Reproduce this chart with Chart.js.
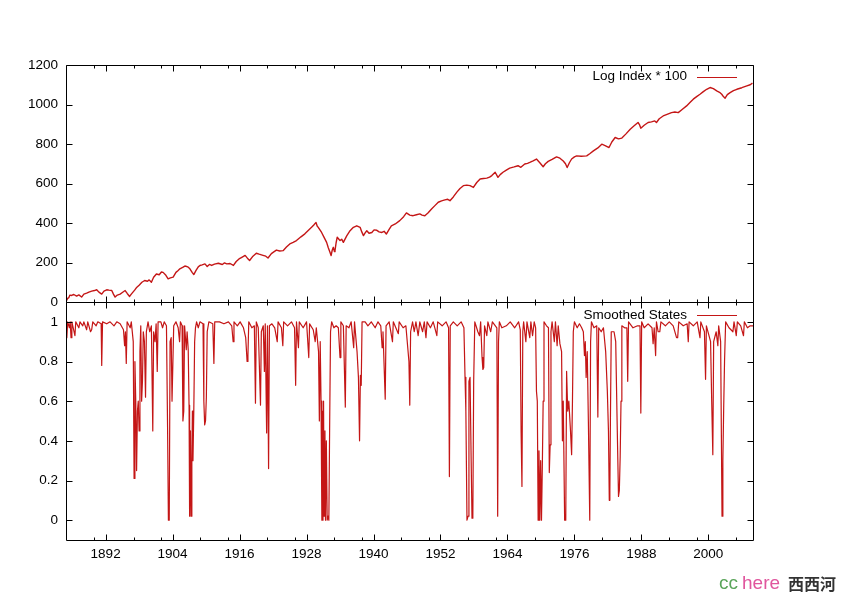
<!DOCTYPE html>
<html><head><meta charset="utf-8">
<script src="https://cdn.jsdelivr.net/npm/chart.js@4.4.1/dist/chart.umd.min.js"></script>
<style>
html,body{margin:0;padding:0;background:#fff;}
#wrap{position:relative;width:842px;height:595px;background:#fff;}
canvas{position:absolute;left:0;top:0;}
</style></head><body>
<div id="wrap"><canvas id="c1" width="842" height="595"></canvas><canvas id="c2" width="842" height="595"></canvas></div>
<script>
// ---------- data ----------
const xTickLabels = [1892,1904,1916,1928,1940,1952,1964,1976,1988,2000];
const xMinorTicks = [1890,1897,1902,1909,1914,1921,1926,1933,1938,1945,1950,1957,1962,1969,1974,1981,1986,1993,1998,2005];
const indexTicks = [0,200,400,600,800,1000,1200];
const stateTicks = [0,0.2,0.4,0.6,0.8,1];

const indexYears = [1884.9,1885.2,1885.4,1885.6,1885.9,1886.3,1886.8,1887.2,1887.7,1888.1,1888.6,1889.0,1889.5,1890.0,1890.4,1890.8,1891.3,1891.7,1892.2,1892.6,1893.1,1893.4,1893.7,1894.1,1894.6,1895.0,1895.5,1895.9,1896.3,1896.6,1896.9,1897.2,1897.5,1898.0,1898.5,1899.0,1899.5,1899.8,1900.2,1900.6,1901.1,1901.6,1902.0,1902.3,1902.8,1903.2,1903.6,1904.1,1904.6,1905.0,1905.3,1905.8,1906.2,1906.5,1906.8,1907.1,1907.5,1907.8,1908.2,1908.6,1908.9,1909.3,1909.8,1910.2,1910.6,1911.0,1911.5,1912.2,1912.9,1913.3,1913.7,1914.3,1914.9,1915.4,1915.9,1916.4,1917.0,1917.4,1917.8,1918.4,1919.0,1919.5,1920.2,1920.7,1921.1,1921.7,1922.2,1922.6,1923.2,1923.8,1924.4,1925.0,1925.6,1926.2,1927.0,1927.7,1928.3,1928.9,1929.3,1929.7,1929.9,1930.1,1930.4,1930.7,1931.1,1931.6,1931.9,1932.2,1932.4,1932.6,1932.8,1933.0,1933.1,1933.3,1933.5,1933.8,1934.0,1934.3,1934.6,1935.2,1935.8,1936.4,1937.0,1937.3,1937.6,1937.9,1938.2,1938.5,1938.8,1939.2,1939.7,1940.1,1940.6,1941.0,1941.5,1941.9,1942.3,1942.8,1943.2,1943.9,1944.7,1945.4,1945.9,1946.5,1947.1,1947.7,1948.3,1948.7,1949.2,1949.8,1950.4,1951.0,1951.6,1952.2,1952.8,1953.3,1953.7,1954.3,1954.9,1955.5,1956.1,1956.7,1957.3,1957.9,1958.5,1959.1,1959.7,1960.3,1960.8,1961.2,1961.8,1962.3,1962.7,1963.2,1963.8,1964.4,1965.2,1965.9,1966.4,1967.1,1967.6,1968.0,1968.6,1969.2,1969.8,1970.4,1970.8,1971.3,1972.0,1972.8,1973.4,1974.0,1974.4,1974.7,1975.1,1975.5,1976.0,1976.4,1977.2,1978.2,1978.8,1979.4,1980.2,1980.9,1981.5,1982.2,1982.7,1983.3,1983.9,1984.5,1985.2,1986.0,1986.7,1987.4,1987.7,1987.9,1988.5,1989.2,1989.8,1990.4,1990.7,1991.2,1991.9,1992.6,1993.4,1994.0,1994.6,1995.3,1996.1,1996.7,1997.3,1997.9,1998.5,1999.1,1999.7,2000.3,2000.9,2001.5,2002.0,2002.4,2002.7,2003.0,2003.4,2003.9,2004.5,2005.1,2006.0,2006.9,2007.5,2007.9];
const indexValues = [3,18,22,35,33,38,30,36,25,40,45,50,55,58,62,50,40,55,62,60,58,40,25,35,40,48,58,42,28,40,50,60,72,85,100,109,105,112,100,125,142,138,152,150,135,117,122,126,150,160,168,175,182,180,176,168,150,139,160,178,185,188,193,180,190,185,192,196,190,198,193,195,185,205,218,226,236,222,210,232,247,242,236,232,223,245,255,263,258,260,278,294,302,311,330,345,362,378,390,403,385,378,365,352,330,302,275,252,235,262,277,255,260,300,328,318,311,318,302,335,361,378,386,382,378,355,336,350,361,348,352,365,363,355,352,358,344,368,386,395,412,432,451,440,437,442,446,440,437,452,471,488,505,512,517,520,513,532,555,575,589,592,589,580,605,623,625,627,632,640,657,631,645,657,668,678,684,690,682,699,702,707,715,724,705,685,700,712,722,735,728,714,700,681,705,724,735,740,738,740,752,765,780,799,792,782,810,833,826,830,850,875,892,909,895,880,895,909,912,917,909,928,942,950,959,962,959,975,993,1010,1027,1040,1052,1065,1077,1086,1080,1069,1062,1052,1040,1032,1050,1060,1070,1077,1085,1094,1100,1108];

const smoothedStates = [[1884.9,0.97],[1885.05,0.92],[1885.2,1],[1885.5,0.97],[1885.65,1],[1885.8,0.92],[1885.95,1],[1886.5,0.93],[1886.65,1],[1887.2,0.97],[1887.4,1],[1887.9,0.98],[1888.1,1],[1888.6,0.96],[1888.8,1],[1889.3,0.95],[1889.5,0.96],[1889.7,1],[1890.3,0.98],[1890.6,1],[1891.2,0.99],[1891.3,0.78],[1891.45,1],[1892.2,0.99],[1892.8,1],[1893.5,0.98],[1894.0,1],[1894.6,0.99],[1895.2,0.96],[1895.4,0.88],[1895.55,0.95],[1895.7,0.79],[1895.85,1],[1896.4,0.97],[1896.6,1],[1896.95,0.9],[1897.1,0.21],[1897.25,0.8],[1897.4,0.6],[1897.55,0.25],[1897.7,0.55],[1897.85,0.6],[1898.0,0.45],[1898.15,0.85],[1898.3,0.98],[1898.45,0.6],[1898.6,0.7],[1898.75,0.95],[1898.95,0.9],[1899.15,0.62],[1899.3,0.95],[1899.6,1],[1899.9,0.95],[1900.2,0.98],[1900.45,0.45],[1900.6,0.95],[1900.85,0.9],[1901.05,0.99],[1901.25,0.75],[1901.4,1],[1901.9,1],[1902.2,0.97],[1902.5,1],[1902.9,0.98],[1903.1,0.47],[1903.25,0.0],[1903.4,0.0],[1903.55,0.9],[1903.75,0.92],[1903.9,0.6],[1904.05,0.6],[1904.2,0.98],[1904.6,1],[1905.0,0.97],[1905.25,0.9],[1905.4,1],[1905.7,0.98],[1905.85,0.5],[1906.0,0.55],[1906.15,0.98],[1906.45,0.86],[1906.6,0.95],[1906.8,0.86],[1906.95,0.58],[1907.05,0.02],[1907.2,0.45],[1907.3,0.02],[1907.45,0.3],[1907.55,0.55],[1907.65,0.3],[1907.8,0.55],[1907.95,0.9],[1908.1,0.97],[1908.3,1],[1908.6,0.97],[1908.9,1],[1909.45,0.99],[1909.6,0.6],[1909.75,0.48],[1909.9,0.5],[1910.05,0.62],[1910.2,0.95],[1910.5,1],[1911.2,0.99],[1911.4,0.79],[1911.55,1],[1912.4,1],[1913.2,0.99],[1914.0,1],[1914.6,0.98],[1914.85,0.9],[1915.0,1],[1915.6,0.98],[1916.1,1],[1916.7,0.97],[1917.1,0.92],[1917.35,0.8],[1917.5,0.83],[1917.65,1],[1918.2,0.97],[1918.65,0.98],[1918.85,0.59],[1919.0,1],[1919.35,0.97],[1919.75,0.58],[1919.9,0.95],[1920.25,0.98],[1920.45,0.75],[1920.6,0.99],[1920.85,0.44],[1921.0,0.98],[1921.2,0.26],[1921.35,0.98],[1921.8,0.99],[1922.3,0.97],[1922.75,0.9],[1922.9,1],[1923.5,0.97],[1923.75,0.88],[1923.9,1],[1924.6,0.98],[1925.3,1],[1925.85,0.97],[1926.05,0.68],[1926.2,1],[1926.55,0.87],[1926.7,1],[1927.4,0.97],[1928.0,1],[1928.4,0.82],[1928.55,0.99],[1929.2,0.96],[1929.55,0.9],[1929.75,0.97],[1930.15,0.85],[1930.3,0.5],[1930.45,0.9],[1930.6,0.6],[1930.75,0.0],[1930.85,0.55],[1930.95,0.0],[1931.05,0.6],[1931.15,0.02],[1931.3,0.45],[1931.4,0.0],[1931.55,0.4],[1931.7,0.0],[1931.85,0.02],[1932.0,0.0],[1932.15,0.5],[1932.3,0.95],[1932.5,1],[1932.9,0.97],[1933.3,0.98],[1933.7,0.97],[1934.0,0.82],[1934.15,1],[1934.6,0.98],[1934.95,0.57],[1935.1,0.98],[1935.6,0.97],[1936.0,1],[1936.45,0.87],[1936.6,1],[1937.05,0.85],[1937.3,0.72],[1937.5,0.4],[1937.65,0.73],[1937.8,0.68],[1937.95,1],[1938.5,1],[1939.0,0.98],[1939.6,1],[1940.3,0.97],[1940.8,1],[1941.3,0.98],[1941.55,0.87],[1941.7,0.95],[1942.1,0.61],[1942.25,0.98],[1942.8,1],[1943.4,0.9],[1943.55,1],[1944.45,0.94],[1944.6,1],[1945.3,0.97],[1945.8,0.98],[1946.35,0.8],[1946.5,0.58],[1946.65,0.95],[1947.0,1],[1947.3,0.95],[1947.6,1],[1948.0,0.93],[1948.3,1],[1948.8,0.95],[1949.1,1],[1949.4,0.92],[1949.6,1],[1950.2,0.97],[1950.7,1],[1951.35,0.93],[1951.5,1],[1952.3,0.98],[1953.0,1],[1953.45,0.97],[1953.6,0.22],[1953.75,0.98],[1954.3,1],[1955.0,0.98],[1955.7,1],[1956.2,0.97],[1956.4,0.72],[1956.55,0.55],[1956.75,0.0],[1956.95,0.02],[1957.1,0.7],[1957.3,0.72],[1957.5,0.3],[1957.65,0.01],[1957.8,0.02],[1957.95,0.7],[1958.15,1],[1958.7,0.95],[1959.0,0.93],[1959.2,1],[1959.45,0.82],[1959.6,0.76],[1959.75,0.77],[1959.9,0.98],[1960.3,0.93],[1960.5,1],[1961.0,0.95],[1961.3,1],[1962.1,0.97],[1962.25,0.02],[1962.4,0.9],[1962.55,1],[1963.0,0.97],[1963.8,0.98],[1964.5,1],[1965.3,0.97],[1966.0,1],[1966.3,0.96],[1966.45,0.44],[1966.6,0.17],[1966.75,0.95],[1966.9,1],[1967.3,0.9],[1967.5,1],[1968.0,0.92],[1968.2,1],[1968.5,0.93],[1968.8,1],[1969.05,0.97],[1969.2,0.65],[1969.35,0.6],[1969.5,0.0],[1969.65,0.35],[1969.8,0.0],[1969.95,0.3],[1970.1,0.0],[1970.25,0.27],[1970.4,0.6],[1970.55,1],[1971.0,0.98],[1971.35,0.97],[1971.5,0.24],[1971.65,0.38],[1971.8,0.95],[1972.0,1],[1972.4,0.9],[1972.6,1],[1972.9,0.88],[1973.1,0.98],[1973.4,0.89],[1973.7,0.85],[1973.85,0.4],[1974.0,0.6],[1974.25,0.0],[1974.45,0.0],[1974.6,0.75],[1974.8,0.55],[1975.0,0.6],[1975.3,0.45],[1975.5,0.33],[1975.65,0.6],[1975.8,0.95],[1976.0,1],[1976.5,0.97],[1976.9,0.99],[1977.3,0.97],[1977.6,0.95],[1977.8,0.83],[1977.95,0.9],[1978.1,0.72],[1978.3,0.85],[1978.5,0.5],[1978.75,0.0],[1978.9,0.9],[1979.05,1],[1979.5,0.97],[1980.0,0.98],[1980.2,0.52],[1980.35,0.97],[1980.8,0.95],[1981.2,0.97],[1981.6,0.85],[1981.9,0.65],[1982.1,0.45],[1982.25,0.1],[1982.35,0.15],[1982.45,0.5],[1982.6,0.95],[1983.1,0.95],[1983.4,0.9],[1983.65,0.5],[1983.9,0.12],[1984.05,0.15],[1984.2,0.32],[1984.35,0.6],[1984.5,0.98],[1985.0,0.97],[1985.4,0.97],[1985.55,0.7],[1985.7,1],[1986.5,0.97],[1987.3,0.98],[1987.75,0.98],[1987.9,0.54],[1988.05,1],[1988.5,0.97],[1989.2,0.99],[1989.9,0.97],[1990.1,0.89],[1990.3,0.97],[1990.55,0.83],[1990.7,1],[1991.0,0.95],[1991.3,0.95],[1991.5,1],[1992.3,0.98],[1993.0,1],[1993.7,0.98],[1994.3,0.92],[1994.5,0.92],[1994.7,1],[1995.5,0.98],[1996.2,0.99],[1996.4,0.9],[1996.55,1],[1997.3,0.98],[1998.0,1],[1998.5,0.92],[1998.65,1],[1999.3,0.95],[1999.5,0.71],[1999.65,0.98],[2000.4,0.9],[2000.6,0.6],[2000.8,0.33],[2000.95,0.9],[2001.4,0.95],[2001.7,0.88],[2001.85,0.98],[2002.2,0.9],[2002.45,0.02],[2002.6,0.3],[2002.75,0.57],[2002.9,0.8],[2003.1,1],[2003.7,0.97],[2004.4,0.95],[2004.6,1],[2005.0,0.93],[2005.2,1],[2005.8,0.98],[2006.3,0.93],[2006.45,1],[2007.0,0.97],[2007.5,0.98],[2008.0,0.98]];

// ---------- styling ----------
const RED = '#c41616';
const FONT = '"Liberation Sans", Arial, Helvetica, sans-serif';
const FSIZE = 13.5;

const framePlugin = {
  id: 'frame',
  afterDatasetsDraw(chart, args, o) {
    const {ctx, chartArea: a} = chart;
    const xs = chart.scales.x, ys = chart.scales.y;
    const L = Math.round(a.left) + 0.5, R = Math.round(a.right) + 0.5;
    const T = Math.round(a.top) + 0.5, B = Math.round(a.bottom) + 0.5;
    ctx.save();
    ctx.strokeStyle = '#000';
    ctx.lineWidth = 1;
    ctx.beginPath();
    ctx.rect(L, T, R - L, B - T);
    xTickLabels.forEach(v => {
      const p = Math.round(xs.getPixelForValue(v)) + 0.5;
      ctx.moveTo(p, B); ctx.lineTo(p, B - 6);
      ctx.moveTo(p, T); ctx.lineTo(p, T + 6);
    });
    xMinorTicks.forEach(v => {
      const p = Math.round(xs.getPixelForValue(v)) + 0.5;
      ctx.moveTo(p, B); ctx.lineTo(p, B - 3);
      ctx.moveTo(p, T); ctx.lineTo(p, T + 3);
    });
    o.yTicks.forEach(v => {
      const p = Math.round(ys.getPixelForValue(v)) + 0.5;
      ctx.moveTo(L, p); ctx.lineTo(L + 6, p);
      ctx.moveTo(R, p); ctx.lineTo(R - 6, p);
    });
    ctx.stroke();
    // key (gnuplot style: text then line sample)
    const ky = a.top + o.keyDy;
    ctx.font = FSIZE + 'px ' + FONT;
    ctx.fillStyle = '#000';
    ctx.textAlign = 'right';
    ctx.textBaseline = 'middle';
    ctx.fillText(chart.data.datasets[0].label, a.right - 66, ky);
    ctx.strokeStyle = RED;
    ctx.beginPath();
    ctx.moveTo(a.right - 56, Math.round(ky) + 0.5);
    ctx.lineTo(a.right - 16, Math.round(ky) + 0.5);
    ctx.stroke();
    ctx.restore();
  },
  afterDraw(chart, args, o) {
    if (!o.watermark) return;
    const ctx = chart.ctx;
    ctx.save();
    ctx.textAlign = 'left';
    ctx.textBaseline = 'alphabetic';
    ctx.font = '19px ' + FONT;
    ctx.fillStyle = '#5aa55a';
    ctx.fillText('cc', 719, 589);
    ctx.fillStyle = '#e0559d';
    ctx.fillText('here', 742, 589);
    ctx.font = 'bold 16px "Noto Sans CJK SC", sans-serif';
    ctx.fillStyle = '#333';
    ctx.fillText('西西河', 788, 590);
    ctx.restore();
  }
};

function yAxis(min, max, ticks, fmt) {
  return {
    min: min, max: max,
    afterFit(s) { s.width = 58; },
    afterBuildTicks(s) { s.ticks = ticks.map(v => ({value: v})); },
    grid: {display: false, drawTicks: false},
    border: {display: false},
    ticks: {color: '#000', font: {family: FONT, size: FSIZE}, padding: 8, autoSkip: false, callback: fmt}
  };
}

Chart.defaults.font.family = FONT;

new Chart(document.getElementById('c1'), {
  type: 'line',
  data: {datasets: [{
    label: 'Log Index * 100',
    data: indexYears.map((x, i) => ({x: x, y: indexValues[i]})),
    borderColor: RED, borderWidth: 1.4, borderJoinStyle: 'round', pointRadius: 0, tension: 0, fill: false
  }]},
  options: {
    responsive: false, animation: false, events: [],
    layout: {padding: {left: 8, right: 89, top: 65, bottom: 293}},
    plugins: {legend: {display: false}, tooltip: {enabled: false},
      frame: {yTicks: indexTicks, keyDy: 11.7}},
    scales: {
      x: {type: 'linear', min: 1884.9, max: 2008.0, display: false},
      y: yAxis(0, 1200, indexTicks, v => String(v))
    }
  },
  plugins: [framePlugin]
});

new Chart(document.getElementById('c2'), {
  type: 'line',
  data: {datasets: [{
    label: 'Smoothed States',
    data: smoothedStates.map(p => ({x: p[0], y: p[1]})),
    borderColor: RED, borderWidth: 1.2, borderJoinStyle: 'round', pointRadius: 0, tension: 0, fill: false
  }]},
  options: {
    responsive: false, animation: false, events: [],
    layout: {padding: {left: 8, right: 89, top: 302, bottom: 25}},
    plugins: {legend: {display: false}, tooltip: {enabled: false},
      frame: {yTicks: stateTicks, keyDy: 13, watermark: true}},
    scales: {
      x: {
        type: 'linear', min: 1884.9, max: 2008.0,
        afterFit(s) { s.height = 30; },
        afterBuildTicks(s) { s.ticks = xTickLabels.map(v => ({value: v})); },
        grid: {display: false, drawTicks: false},
        border: {display: false},
        ticks: {color: '#000', font: {family: FONT, size: FSIZE}, padding: 6, autoSkip: false, maxRotation: 0, callback: v => String(v)}
      },
      y: yAxis(-0.1, 1.1, stateTicks, v => String(Math.round(v * 10) / 10))
    }
  },
  plugins: [framePlugin]
});
</script>
</body></html>
